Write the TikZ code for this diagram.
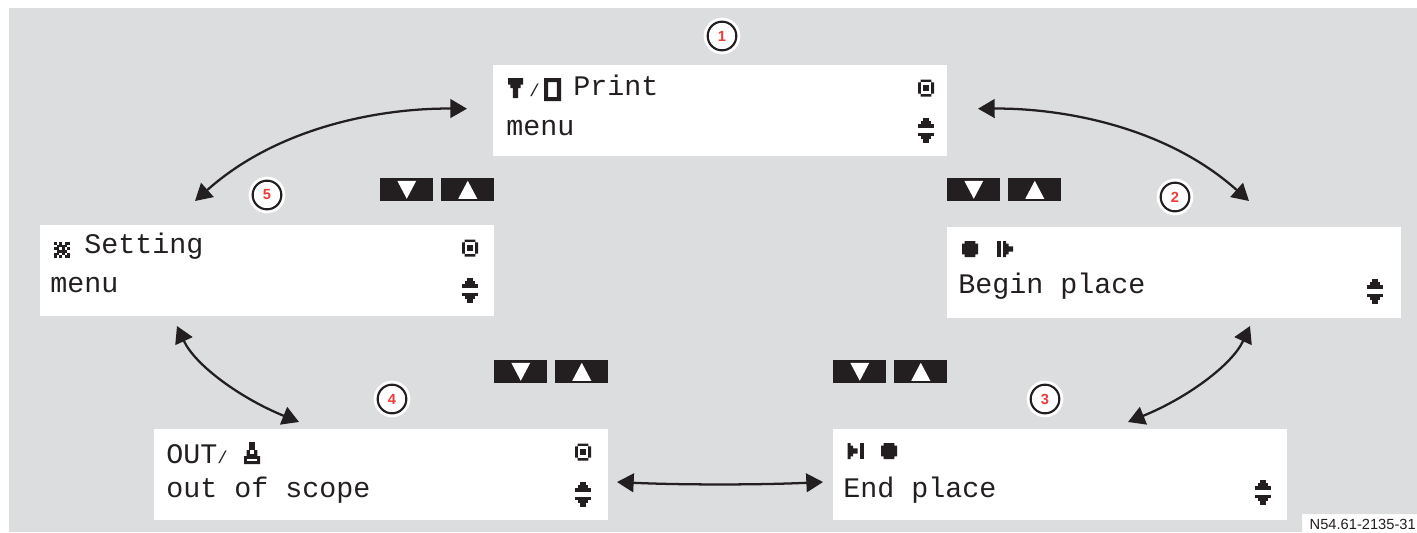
\documentclass[tikz,border=0pt]{standalone}
\usepackage{fontspec}
\setmainfont{Liberation Mono}
\newfontfamily\labelfont{Liberation Sans}
\usetikzlibrary{arrows.meta,calc}
\definecolor{panel}{HTML}{DCDDDF}
\definecolor{ink}{HTML}{231F20}
\definecolor{numred}{HTML}{EE3A3A}
\tikzset{
  x=0.75pt,y=-0.75pt,
  screen/.style={fill=white,draw=none,minimum width=340.5pt,minimum height=68.25pt,inner sep=0pt,anchor=north west},
  lcd/.style={font=\fontsize{21.25pt}{24pt}\selectfont,text=ink,anchor=base west,inner sep=0pt},
  keybox/.style={fill=ink,draw=none,minimum width=39.75pt,minimum height=17.25pt,inner sep=0pt,anchor=north west},
  numring/.style={circle,fill=white,draw=ink,line width=1.6pt,minimum size=21.5pt,inner sep=0pt,
    font=\labelfont\bfseries\fontsize{11pt}{12pt}\selectfont,text=numred},
  halo/.style={circle,fill=white,minimum size=27.5pt,inner sep=0pt},
  flow/.style={draw=ink,line width=1.7pt,{Triangle[length=12.5pt,width=14pt]}-{Triangle[length=12.5pt,width=14pt]}},
  pics/updown/.style={code={
    \fill[ink] (-2.7,-12.5) rectangle (2.7,-9.2);
    \fill[ink] (-5.4,-9.2) rectangle (5.4,-5.9);
    \fill[ink] (-8,-5.9) rectangle (8,-2.5);
    \fill[ink] (-8,2.5) rectangle (8,5.9);
    \fill[ink] (-5.4,5.9) rectangle (5.4,9.2);
    \fill[ink] (-2.7,9.2) rectangle (2.7,12.5);
  }},
  pics/target/.style={code={
    \fill[ink] (-5.4,-8.5)--(5.4,-8.5)--(5.4,-5.6)--(8,-5.6)--(8,5.6)--(5.4,5.6)--(5.4,8.5)--(-5.4,8.5)--(-5.4,5.6)--(-8,5.6)--(-8,-5.6)--(-5.4,-5.6)--cycle;
    \fill[white] (-5.4,-5.6) rectangle (5.4,5.6);
    \fill[ink] (-2.7,-2.8) rectangle (2.7,2.8);
  }},
  pics/disc/.style={code={
    \fill[ink] (-5.4,-8)--(5.4,-8)--(5.4,-5.4)--(8,-5.4)--(8,5.4)--(5.4,5.4)--(5.4,8)--(-5.4,8)--(-5.4,5.4)--(-8,5.4)--(-8,-5.4)--(-5.4,-5.4)--cycle;
  }},
  pics/begmark/.style={code={
    \fill[ink] (-8,-8) rectangle (-4.4,8);
    \fill[ink] (-2,-8)--(1,-8)--(1,-5.3)--(3.5,-5.3)--(3.5,-2.7)--(8,-2.7)--(8,2.7)--(3.5,2.7)--(3.5,5.3)--(1,5.3)--(1,8)--(-2,8)--cycle;
  }},
  pics/endmark/.style={code={
    \fill[ink] (4.4,-8) rectangle (8,8);
    \fill[ink] (-8,-8)--(-5,-8)--(-5,-5.3)--(-2.5,-5.3)--(-2.5,-2.7)--(2,-2.7)--(2,2.7)--(-2.5,2.7)--(-2.5,5.3)--(-5,5.3)--(-5,8)--(-8,8)--cycle;
  }},
  pics/funnel/.style={code={
    \fill[ink] (-7.5,-10)--(7.5,-10)--(7.5,-3.5)--(5.2,-3.5)--(5.2,0)--(2.6,0)--(2.6,10)--(-2.6,10)--(-2.6,0)--(-5.2,0)--(-5.2,-3.5)--(-7.5,-3.5)--cycle;
  }},
  pics/cardframe/.style={code={
    \fill[ink,even odd rule] (-8.5,-11.5) rectangle (8.5,11.5) (-4.3,-7.5) rectangle (4.3,7.5);
  }},
  pics/gear/.style={code={
    \fill[ink] (-8,-8) rectangle (8,8);
    \foreach \a/\b in {-5.3/-8,0/-8,-8/-5.3,5.3/-5.3,-2.7/-2.7,2.7/-2.7,-8/0,5.3/0,-2.7/2.7,2.7/2.7,-5.3/5.3,0/5.3}
      \fill[white] (\a,\b) rectangle ++(2.7,2.7);
  }},
  pics/ferry/.style={code={
    \fill[ink] (-2.7,-11) rectangle (2.7,-1);
    \fill[ink] (-5.4,-3)--(5.4,-3)--(5.4,3)--(8,3)--(8,11)--(-8,11)--(-8,3)--(-5.4,3)--cycle;
    \fill[white] (-1.8,-3) rectangle (1.8,1);
    \fill[white] (-5.4,5.5) rectangle (5.4,8);
  }}
}
\begin{document}
\begin{tikzpicture}
\useasboundingbox (0,0) rectangle (1417,532);
\fill[white] (0,0) rectangle (1417,532);
\fill[panel] (9,8)--(1417,8)--(1417,514)--(1302,514)--(1302,532)--(9,532)--cycle;

% screens
\node[screen] (s1) at (493,65) {};
\node[screen] (s2) at (947,227) {};
\node[screen] (s3) at (833,429) {};
\node[screen] (s4) at (154,429) {};
\node[screen] (s5) at (40,225) {};

% screen texts
\node[lcd] (t1a) at (573,95) {Print};
\node[lcd] (t1b) at (506,135) {menu};
\node[lcd] (t2) at (958,293) {Begin place};
\node[lcd] (t3) at (843,497) {End place};
\node[lcd] (t4a) at (166,463) {OUT{\fontsize{13pt}{14pt}\selectfont /}};
\node[lcd] (t4b) at (166,497) {out of scope};
\node[lcd] (t5a) at (84,253) {Setting};
\node[lcd] (t5b) at (50,292) {menu};

% screen glyphs
\pic at (515.5,88) {funnel};
\node[lcd,font=\fontsize{13pt}{14pt}\selectfont] (slash1) at (529,96) {/};
\pic at (552.5,89.5) {cardframe};
\foreach \p in {(926,88),(470,248),(583,452)} \pic at \p {target};
\foreach \p in {(926,130),(470,290),(583,494),(1375,291),(1263,492)} \pic at \p {updown};
\pic at (62,250) {gear};
\pic at (252,453) {ferry};
\pic at (970,249) {disc};
\pic at (1005,249) {begmark};
\pic at (855.5,451) {endmark};
\pic at (889,451) {disc};

% key pairs
\foreach \n/\x/\y in {a/380/178,b/947/178,c/494/360,d/833/360}{
  \node[keybox] (\n d) at (\x,\y) {};
  \node[keybox] (\n u) at (\x+61,\y) {};
  \fill[white] ($(\n d.center)+(-9.5,-9)$)--($(\n d.center)+(9.5,-9)$)--($(\n d.center)+(0,9)$)--cycle;
  \fill[white] ($(\n u.center)+(-9.5,9)$)--($(\n u.center)+(9.5,9)$)--($(\n u.center)+(0,-9)$)--cycle;
}

% number badges
\foreach \n/\x/\y in {1/722/36,2/1175/197,3/1045/399,4/392/399,5/267/195}{
  \node[halo] (h\n) at (\x,\y) {};
  \node[numring] (n\n) at (\x,\y) {\n};
}

% connector ends
\coordinate (e1l) at (467,108.7);
\coordinate (e5t) at (195,201);
\coordinate (e1r) at (978,108.7);
\coordinate (e2t) at (1249,201);
\coordinate (e2b) at (1250,326);
\coordinate (e3t) at (1128,422);
\coordinate (e3l) at (823,482);
\coordinate (e4r) at (617,482);
\coordinate (e4t) at (299,422);
\coordinate (e5b) at (177,326);

\draw[flow] (e1l) .. controls (385,108) and (280,125) .. (e5t);
\draw[flow] (e1r) .. controls (1059,108) and (1164,125) .. (e2t);
\draw[flow] (e2b) .. controls (1232,365) and (1187,398) .. (e3t);
\draw[flow] (e3l) .. controls (760,485) and (680,485) .. (e4r);
\draw[flow] (e4t) .. controls (240,398) and (195,365) .. (e5b);

\node[font=\labelfont\fontsize{11pt}{12pt}\selectfont,text=ink,anchor=base east,inner sep=0pt] (code) at (1416,529) {N54.61-2135-31};
\end{tikzpicture}
\end{document}
